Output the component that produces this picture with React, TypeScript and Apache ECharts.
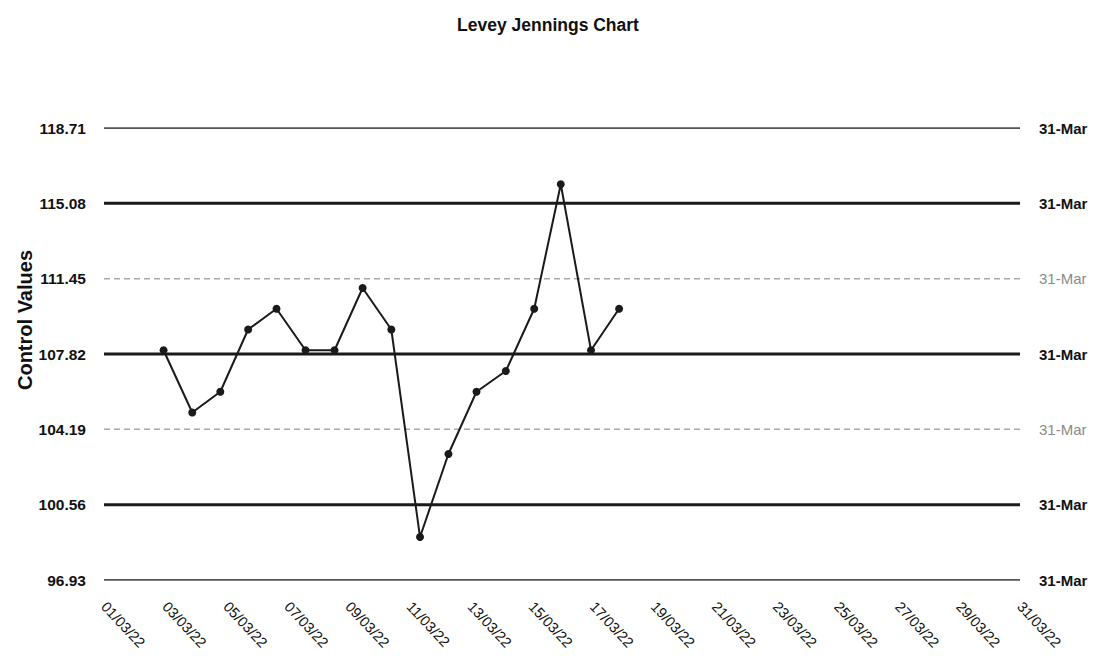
import React, { useEffect, useRef } from "react";
import * as echarts from "echarts";

const title = "Levey Jennings Chart";
const yAxisName = "Control Values";
const controlLevels = [96.93, 100.56, 104.19, 107.82, 111.45, 115.08, 118.71];
const levelStyles = ["thin", "thick", "dashed", "thick", "dashed", "thick", "thin"];
const endLabelText = "31-Mar";
const dayTicks = [1, 3, 5, 7, 9, 11, 13, 15, 17, 19, 21, 23, 25, 27, 29, 31];
const pointDays = [2.95, 3.89, 4.81, 5.72, 6.65, 7.6, 8.55, 9.47, 10.41, 11.35, 12.28, 13.2, 14.16, 15.09, 15.96, 16.95, 17.87];
const pointValues = [108, 105, 106, 109, 110, 108, 108, 111, 109, 99, 103, 106, 107, 110, 116, 108, 110];
const dayStart = 1;
const dayEnd = 31;

const FONT = "'Liberation Sans', Arial, sans-serif";

export default function App() {
  const ref = useRef<HTMLDivElement>(null);
  useEffect(() => {
    document.body.style.margin = "0";
    if (!ref.current) return;
    const chart = echarts.init(ref.current, null, { renderer: "svg" });
    const pad = (n: number) => (n < 10 ? "0" + n : "" + n);
    const levelSeries = controlLevels.map((v, i) => {
      const s = levelStyles[i];
      const dashed = s === "dashed";
      return {
        type: "line",
        data: [
          [dayStart, v],
          [dayEnd, v],
        ],
        symbol: "none",
        silent: true,
        z: 1,
        lineStyle: {
          color: dashed ? "#a8a8a8" : "#1a1a1a",
          width: s === "thick" ? 3 : 1.5,
          type: dashed ? [6, 4] : "solid",
        },
        endLabel: {
          show: true,
          formatter: () => endLabelText,
          distance: 19,
          color: dashed ? "#8a8a8a" : "#111",
          fontWeight: dashed ? "normal" : "bold",
          fontSize: 15,
          fontFamily: FONT,
        },
      };
    });
    chart.setOption({
      animation: false,
      backgroundColor: "#ffffff",
      title: {
        text: title,
        left: "center",
        top: 11,
        textStyle: { fontFamily: FONT, fontSize: 17.5, fontWeight: "bold", color: "#111" },
      },
      graphic: [
        {
          type: "text",
          x: 25,
          y: 320,
          rotation: Math.PI / 2,
          style: {
            text: yAxisName,
            fontFamily: FONT,
            fontSize: 20,
            fontWeight: "bold",
            fill: "#111",
            align: "center",
            verticalAlign: "middle",
          },
        },
      ],
      grid: { left: 104, right: 76, top: 128, bottom: 84 },
      xAxis: {
        type: "value",
        min: dayStart,
        max: dayEnd,
        axisLine: { show: false },
        axisTick: { show: false },
        splitLine: { show: false },
        axisLabel: {
          customValues: dayTicks,
          rotate: -47,
          margin: 24,
          fontFamily: FONT,
          fontSize: 14.5,
          color: "#111",
          formatter: (v: number) => pad(Math.round(v)) + "/03/22",
        },
      },
      yAxis: {
        type: "value",
        min: controlLevels[0],
        max: controlLevels[controlLevels.length - 1],
        axisLine: { show: false },
        axisTick: { show: false },
        splitLine: { show: false },
        axisLabel: {
          customValues: controlLevels,
          margin: 18,
          fontFamily: FONT,
          fontSize: 15.5,
          fontWeight: "bold",
          color: "#111",
          formatter: (v: number) => v.toFixed(2),
        },
      },
      series: [
        ...levelSeries,
        {
          type: "line",
          data: pointDays.map((d, i) => [d, pointValues[i]]),
          symbol: "circle",
          symbolSize: 8,
          z: 5,
          lineStyle: { color: "#1a1a1a", width: 2 },
          itemStyle: { color: "#1a1a1a" },
        },
      ],
    });
    return () => chart.dispose();
  }, []);
  return <div ref={ref} style={{ width: 1096, height: 664 }} />;
}
